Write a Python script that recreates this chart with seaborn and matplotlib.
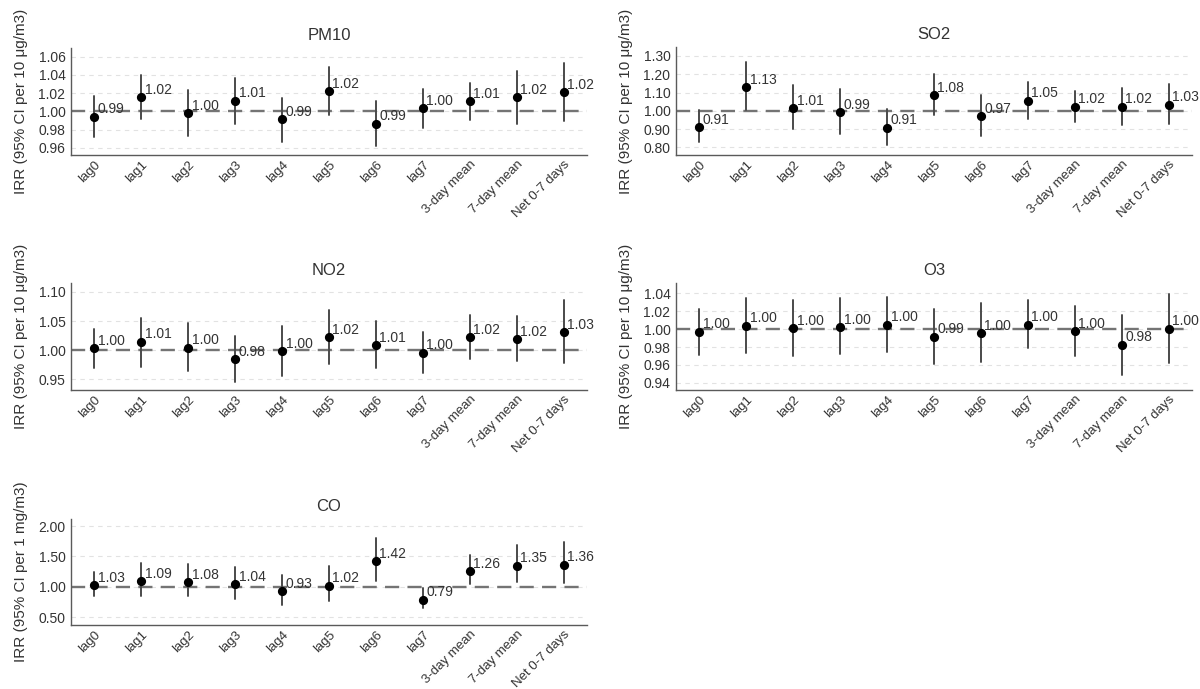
import numpy as np
import pandas as pd
import matplotlib
matplotlib.use("Agg")
import matplotlib.pyplot as plt
import seaborn as sns

# Exposure windows shown on every panel
periods = ["lag0", "lag1", "lag2", "lag3", "lag4", "lag5", "lag6", "lag7",
           "3-day mean", "7-day mean", "Net 0-7 days"]

# Incidence rate ratios with 95% confidence limits, per pollutant
pm10_est = [0.994, 1.0152, 0.998, 1.0116, 0.991, 1.0222, 0.9865, 1.0036, 1.0109, 1.0156, 1.0211]
pm10_lo = [0.972, 0.991, 0.973, 0.9865, 0.9665, 0.9956, 0.9622, 0.9818, 0.9902, 0.9865, 0.9891]
pm10_hi = [1.0166, 1.0396, 1.0229, 1.0367, 1.0149, 1.0484, 1.0109, 1.0247, 1.0309, 1.0447, 1.0531]

so2_est = [0.909, 1.129, 1.013, 0.991, 0.907, 1.084, 0.969, 1.055, 1.022, 1.022, 1.033]
so2_lo = [0.830, 1.002, 0.898, 0.873, 0.811, 0.975, 0.864, 0.956, 0.938, 0.924, 0.927]
so2_hi = [1.003, 1.269, 1.141, 1.118, 1.009, 1.202, 1.087, 1.160, 1.109, 1.124, 1.145]

no2_est = [1.003, 1.0145, 1.0045, 0.9842, 0.998, 1.0219, 1.0087, 0.9956, 1.0219, 1.019, 1.0304]
no2_lo = [0.970, 0.9717, 0.9648, 0.945, 0.9557, 0.9762, 0.9688, 0.9614, 0.9848, 0.9814, 0.979]
no2_hi = [1.037, 1.0555, 1.047, 1.024, 1.041, 1.0686, 1.050, 1.0316, 1.060, 1.059, 1.0857]

o3_est = [0.997, 1.004, 1.001, 1.0023, 1.0049, 0.9917, 0.9955, 1.0049, 0.9974, 0.9823, 1.0004]
o3_lo = [0.971, 0.973, 0.970, 0.9717, 0.974, 0.9615, 0.963, 0.9785, 0.970, 0.949, 0.9626]
o3_hi = [1.023, 1.035, 1.033, 1.035, 1.036, 1.0226, 1.029, 1.032, 1.0257, 1.016, 1.0389]

co_est = [1.03, 1.09, 1.08, 1.04, 0.93, 1.02, 1.42, 0.79, 1.26, 1.35, 1.36]
co_lo = [0.855, 0.855, 0.855, 0.80, 0.704, 0.765, 1.095, 0.65, 1.04, 1.075, 1.07]
co_hi = [1.25, 1.40, 1.37, 1.327, 1.20, 1.344, 1.81, 0.985, 1.52, 1.686, 1.74]

ug_label = "IRR (95% CI per 10 μg/m3)"
mg_label = "IRR (95% CI per 1 mg/m3)"

panels = [
    dict(name="PM10", est=pm10_est, lo=pm10_lo, hi=pm10_hi, ylabel=ug_label,
         yticks=[0.96, 0.98, 1.00, 1.02, 1.04, 1.06], ylim=(0.952, 1.0695),
         rect=[71, 48, 516, 107]),
    dict(name="SO2", est=so2_est, lo=so2_lo, hi=so2_hi, ylabel=ug_label,
         yticks=[0.80, 0.90, 1.00, 1.10, 1.20, 1.30], ylim=(0.758, 1.349),
         rect=[676, 47, 516, 108]),
    dict(name="NO2", est=no2_est, lo=no2_lo, hi=no2_hi, ylabel=ug_label,
         yticks=[0.95, 1.00, 1.05, 1.10], ylim=(0.932, 1.115),
         rect=[71, 283, 516, 107]),
    dict(name="O3", est=o3_est, lo=o3_lo, hi=o3_hi, ylabel=ug_label,
         yticks=[0.94, 0.96, 0.98, 1.00, 1.02, 1.04], ylim=(0.932, 1.0515),
         rect=[676, 283, 516, 107]),
    dict(name="CO", est=co_est, lo=co_lo, hi=co_hi, ylabel=mg_label,
         yticks=[0.50, 1.00, 1.50, 2.00], ylim=(0.374, 2.115),
         rect=[71, 519, 516, 106]),
]

sns.set_theme(style="white")
plt.rcParams["font.family"] = ["Liberation Sans", "DejaVu Sans"]

W, H = 1200, 689
fig = plt.figure(figsize=(W / 100, H / 100), dpi=100)

text_color = "#333333"

for p in panels:
    x0, y0, w, h = p["rect"]
    ax = fig.add_axes([x0 / W, 1 - (y0 + h) / H, w / W, h / H])

    # long table: lower limit, estimate and upper limit per window;
    # the median is the estimate and the full range is the CI
    df = pd.DataFrame({
        "period": np.repeat(periods, 3),
        "irr": np.column_stack([p["lo"], p["est"], p["hi"]]).ravel(),
    })

    ax.yaxis.grid(True, linestyle=(0, (4, 4)), color="#e2e2e2", linewidth=0.8)
    ax.set_axisbelow(True)
    ax.axhline(1.0, color="#747474", linewidth=1.7, linestyle=(0, (6, 3.5)), zorder=1.5)

    sns.pointplot(data=df, x="period", y="irr", order=periods,
                  estimator="median", errorbar=("pi", 100),
                  color="black", marker="o", markersize=4.6, linestyle="none",
                  err_kws={"color": "#4a4a4a", "linewidth": 1.4, "zorder": 2},
                  zorder=3, ax=ax)

    for i, v in enumerate(p["est"]):
        ax.annotate(f"{v:.2f}", (i, v), xytext=(2.5, 2.5), textcoords="offset points",
                    ha="left", va="baseline", fontsize=10, color=text_color, zorder=4)

    ax.set_xlim(-0.5, len(periods) - 0.5)
    ax.set_ylim(*p["ylim"])
    ax.set_yticks(p["yticks"])
    ax.set_yticklabels([f"{t:.2f}" for t in p["yticks"]])
    ax.set_xticks(range(len(periods)))
    ax.set_xticklabels(periods, rotation=45, ha="right", rotation_mode="anchor")
    ax.tick_params(axis="y", length=0, labelsize=10, labelcolor=text_color, pad=4)
    ax.tick_params(axis="x", length=0, labelsize=9.5, labelcolor=text_color, pad=2.5)

    ax.set_xlabel("")
    ax.set_ylabel(p["ylabel"], fontsize=11, color=text_color)
    ax.yaxis.set_label_coords(-0.084, 0.5)
    ax.set_title(p["name"], fontsize=12, color=text_color, pad=6)

    for side in ("top", "right"):
        ax.spines[side].set_visible(False)
    for side in ("left", "bottom"):
        ax.spines[side].set_color("#5a5a5a")
        ax.spines[side].set_linewidth(1.0)

fig.savefig("out.png", dpi=100, facecolor="white")
